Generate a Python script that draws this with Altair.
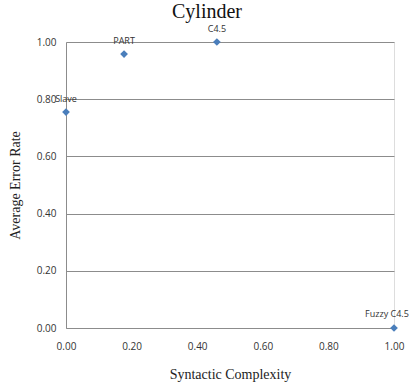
import altair as alt
import pandas as pd

names = ["Slave", "PART", "C4.5", "Fuzzy C4.5"]
complexity = [0.0, 0.177, 0.46, 1.0]
error_rate = [0.755, 0.958, 1.0, 0.0]

df = pd.DataFrame({"name": names, "x": complexity, "y": error_rate})

x_enc = alt.X("x:Q", scale=alt.Scale(domain=[0, 1], nice=False),
              axis=alt.Axis(title="Syntactic Complexity", values=[0, 0.2, 0.4, 0.6, 0.8, 1.0],
                            format=".2f", grid=False, ticks=False, domainColor="#8c8c8c",
                            labelFlush=False,
                            labelFont="Open Sans", labelFontSize=10, labelColor="#333333", labelPadding=13,
                            titleFont="Liberation Serif", titleFontSize=14, titleFontWeight="normal",
                            titleColor="#222222", titlePadding=16))
y_enc = alt.Y("y:Q", scale=alt.Scale(domain=[0, 1], nice=False),
              axis=alt.Axis(title="Average Error Rate", values=[0, 0.2, 0.4, 0.6, 0.8, 1.0],
                            format=".2f", grid=True, gridColor="#8c8c8c", ticks=False,
                            domainColor="#8c8c8c", labelFlush=False,
                            labelFont="Open Sans", labelFontSize=10, labelColor="#333333", labelPadding=10,
                            titleFont="Liberation Serif", titleFontSize=14, titleFontWeight="normal",
                            titleColor="#222222", titlePadding=14))

base = alt.Chart(df)
points = base.mark_point(shape="diamond", filled=True, size=60, color="#4A7EBB", opacity=1).encode(x=x_enc, y=y_enc)
labels = base.transform_filter(alt.datum.name != "Fuzzy C4.5").mark_text(
    font="Open Sans", fontSize=9, color="#333333", dy=-13, align="center").encode(
    x="x:Q", y="y:Q", text="name:N")
labels_r = base.transform_filter(alt.datum.name == "Fuzzy C4.5").mark_text(
    font="Open Sans", fontSize=9, color="#333333", dy=-14, dx=-7, align="center").encode(
    x="x:Q", y="y:Q", text="name:N")

chart = (points + labels + labels_r).properties(
    width=328, height=286,
    title=alt.TitleParams("Cylinder", font="Liberation Serif", fontSize=20, fontWeight="normal",
                          color="#111111", anchor="middle", dx=-23, offset=3),
    autosize=alt.AutoSizeParams(type="none"),
    padding={"left": 66, "top": 42, "right": 22, "bottom": 61},
).configure_view(stroke=None).configure(background="white")

chart.save("out.html", embed_options={"renderer": "svg", "actions": False})
